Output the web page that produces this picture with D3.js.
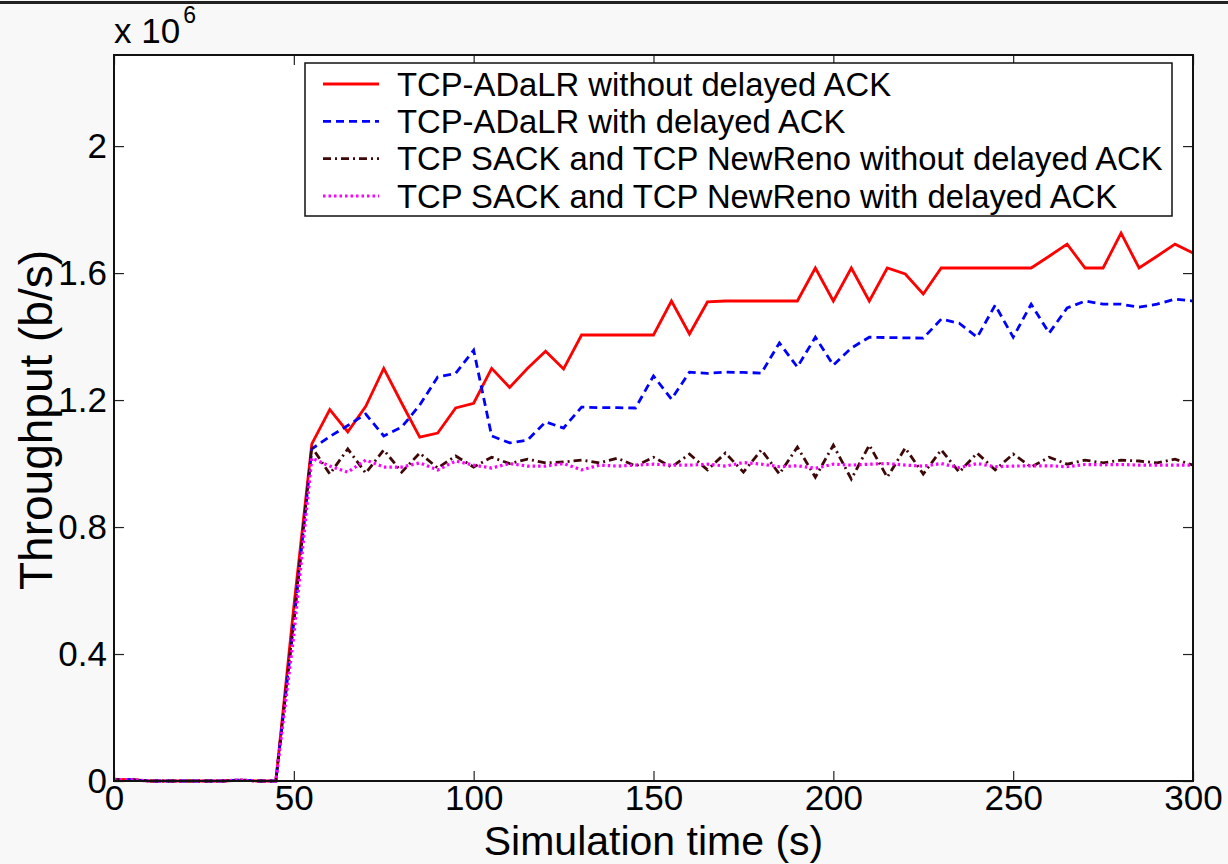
<!DOCTYPE html>
<html>
<head>
<meta charset="utf-8">
<script src="https://cdn.jsdelivr.net/npm/d3@7"></script>
<style>
  html, body { margin: 0; padding: 0; background: #f8f8f8; }
  svg { display: block; font-family: "Liberation Sans", Arial, sans-serif; }
</style>
</head>
<body>
<svg id="chart" width="1228" height="864"></svg>
<script>
// ---- data (throughput in units of 10^6 b/s) ----
const times = d3.range(0, 301, 5);

const adalrNoDelay = [
  0.005, 0.004, 0, 0, 0, 0, 0, 0.003, 0, 0,
  0.55, 1.062, 1.17, 1.10, 1.18, 1.30, 1.19, 1.083, 1.096, 1.175,
  1.19, 1.30, 1.24, 1.30, 1.354, 1.298, 1.405, 1.405, 1.405, 1.405,
  1.405, 1.512, 1.408, 1.509, 1.512, 1.512, 1.512, 1.512, 1.512, 1.616,
  1.512, 1.616, 1.512, 1.616, 1.597, 1.534, 1.616, 1.616, 1.616, 1.616,
  1.616, 1.616, 1.653, 1.691, 1.616, 1.616, 1.726, 1.616, 1.653, 1.691,
  1.663
];

const adalrDelay = [
  0.005, 0.004, 0, 0, 0, 0, 0, 0.003, 0, 0,
  0.50, 1.046, 1.085, 1.12, 1.156, 1.087, 1.115, 1.184, 1.273, 1.284,
  1.357, 1.087, 1.065, 1.074, 1.131, 1.112, 1.178, 1.176, 1.176, 1.175,
  1.276, 1.203, 1.288, 1.284, 1.288, 1.287, 1.285, 1.380, 1.304, 1.398,
  1.31, 1.364, 1.398, 1.397, 1.396, 1.395, 1.455, 1.442, 1.398, 1.499,
  1.398, 1.502, 1.411, 1.490, 1.512, 1.502, 1.502, 1.493, 1.502, 1.518,
  1.512
];

const sackNoDelay = [
  0.005, 0.004, 0, 0, 0, 0, 0, 0.003, 0, 0,
  0.51, 1.052, 0.967, 1.046, 0.970, 1.043, 0.973, 1.033, 0.986, 1.024,
  0.989, 1.020, 1.000, 1.014, 1.002, 1.005, 1.011, 1.002, 1.017, 0.992,
  1.020, 0.989, 1.030, 0.980, 1.033, 0.973, 1.043, 0.967, 1.052, 0.957,
  1.058, 0.951, 1.058, 0.957, 1.049, 0.967, 1.043, 0.973, 1.033, 0.980,
  1.030, 0.989, 1.020, 0.998, 1.011, 1.002, 1.011, 1.008, 1.002, 1.014,
  0.995
];

const sackDelay = [
  0.005, 0.004, 0, 0, 0, 0, 0, 0.003, 0, 0,
  0.46, 1.017, 0.992, 0.973, 1.011, 0.989, 0.989, 1.002, 0.980, 1.008,
  0.995, 0.986, 1.000, 0.992, 0.992, 1.000, 0.980, 0.995, 0.992, 0.995,
  0.998, 0.995, 0.995, 0.998, 0.992, 1.003, 0.998, 0.990, 0.993, 0.985,
  0.998, 0.995, 0.998, 1.000, 0.995, 0.992, 1.000, 0.987, 1.000, 0.990,
  0.992, 0.993, 0.993, 0.990, 0.997, 0.996, 0.997, 0.995, 0.995, 0.995,
  0.995
];

const seriesNames = [
  "TCP-ADaLR without delayed ACK",
  "TCP-ADaLR with delayed ACK",
  "TCP SACK and TCP NewReno without delayed ACK",
  "TCP SACK and TCP NewReno with delayed ACK"
];
const seriesValues = [adalrNoDelay, adalrDelay, sackNoDelay, sackDelay];

const xTicks = [0, 50, 100, 150, 200, 250, 300];
const yTicks = [0, 0.4, 0.8, 1.2, 1.6, 2];
const yTickLabels = ["0", "0.4", "0.8", "1.2", "1.6", "2"];

const xTitle = "Simulation time (s)";
const yTitle = "Throughput (b/s)";

// ---- styles ----
const styles = [
  { color: "#ff0000", dash: null, width: 2.8 },
  { color: "#0000ff", dash: "8,5", width: 2.8 },
  { color: "#3e0808", dash: "8,4,2,4", width: 2.8 },
  { color: "#ff00ff", dash: "2.5,3", width: 3.2 }
];

const svg = d3.select("#chart");
const plot = { left: 114, right: 1193, top: 55, bottom: 781 };

// top dark line of the frame image
svg.append("rect").attr("x", 0).attr("y", 1).attr("width", 1228).attr("height", 3).attr("fill", "#222");

const x = d3.scaleLinear().domain([0, 300]).range([plot.left, plot.right]);
const y = d3.scaleLinear().domain([0, 2.287]).range([plot.bottom, plot.top]);

svg.append("rect")
  .attr("x", plot.left).attr("y", plot.top)
  .attr("width", plot.right - plot.left).attr("height", plot.bottom - plot.top)
  .attr("fill", "#fff");

// lines
const lineGen = d3.line().x((d, i) => x(times[i])).y(d => y(d));
const gLines = svg.append("g");
seriesValues.forEach((vals, k) => {
  gLines.append("path")
    .datum(vals)
    .attr("d", lineGen)
    .attr("fill", "none")
    .attr("stroke", styles[k].color)
    .attr("stroke-width", styles[k].width)
    .attr("stroke-linejoin", "miter")
    .attr("stroke-dasharray", styles[k].dash);
});

// axes (ticks inward, on all four sides)
const fontAxis = 35;
const bottomAxis = svg.append("g").attr("transform", `translate(0,${plot.bottom})`)
  .call(d3.axisBottom(x).tickValues(xTicks).tickSize(-10).tickPadding(4).tickFormat(d3.format("d")));
const topAxis = svg.append("g").attr("transform", `translate(0,${plot.top})`)
  .call(d3.axisTop(x).tickValues(xTicks).tickSize(-10).tickFormat(""));
const leftAxis = svg.append("g").attr("transform", `translate(${plot.left},0)`)
  .call(d3.axisLeft(y).tickValues(yTicks).tickSize(-10).tickPadding(7)
    .tickFormat((d, i) => yTickLabels[i]));
const rightAxis = svg.append("g").attr("transform", `translate(${plot.right},0)`)
  .call(d3.axisRight(y).tickValues(yTicks).tickSize(-10).tickFormat(""));

[bottomAxis, topAxis, leftAxis, rightAxis].forEach(g => {
  g.select(".domain").remove();
  g.selectAll(".tick line").attr("stroke", "#222").attr("stroke-width", 1.2);
  g.selectAll(".tick text").attr("font-size", fontAxis).attr("fill", "#000")
    .attr("font-family", "'Liberation Sans', Arial, sans-serif");
});

// frame
svg.append("rect")
  .attr("x", plot.left).attr("y", plot.top)
  .attr("width", plot.right - plot.left).attr("height", plot.bottom - plot.top)
  .attr("fill", "none").attr("stroke", "#111").attr("stroke-width", 2);

// multiplier label
const mult = svg.append("text").attr("x", 114).attr("y", 43)
  .attr("font-size", 35).attr("fill", "#000");
mult.append("tspan").text("x 10");
mult.append("tspan").attr("font-size", 23).attr("dy", -20).attr("dx", 3).text("6");

// axis titles
svg.append("text")
  .attr("x", (plot.left + plot.right) / 2).attr("y", 855)
  .attr("text-anchor", "middle").attr("font-size", 41).attr("fill", "#000")
  .text(xTitle);
svg.append("text")
  .attr("transform", "translate(52,420) rotate(-90)")
  .attr("text-anchor", "middle").attr("font-size", 46).attr("fill", "#000")
  .text(yTitle);

// legend
const legend = { x0: 305, y0: 63, x1: 1172, y1: 216 };
svg.append("rect")
  .attr("x", legend.x0).attr("y", legend.y0)
  .attr("width", legend.x1 - legend.x0).attr("height", legend.y1 - legend.y0)
  .attr("fill", "#fff").attr("stroke", "#111").attr("stroke-width", 1.5);
const rowY = d3.scalePoint().domain(d3.range(seriesNames.length)).range([84, 196]);
seriesNames.forEach((name, k) => {
  const cy = rowY(k);
  svg.append("line")
    .attr("x1", 323).attr("x2", 379).attr("y1", cy).attr("y2", cy)
    .attr("stroke", styles[k].color).attr("stroke-width", styles[k].width)
    .attr("stroke-dasharray", styles[k].dash);
  svg.append("text")
    .attr("x", 397).attr("y", cy + 11.5)
    .attr("font-size", 32.8).attr("fill", "#000")
    .text(name);
});
</script>
</body>
</html>
